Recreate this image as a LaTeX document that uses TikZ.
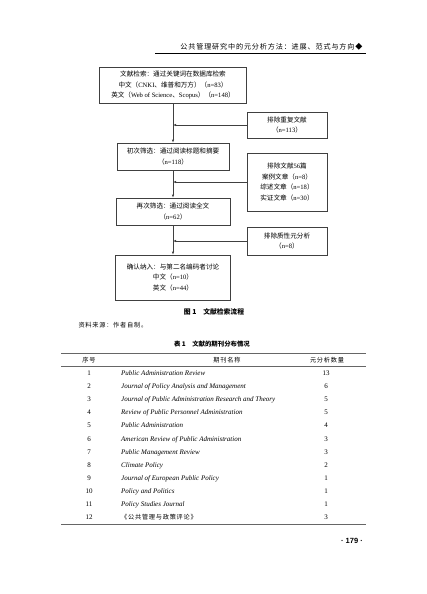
\documentclass[tikz,border=0pt]{standalone}
\usepackage{fontspec}
\setmainfont{Liberation Serif}
\setsansfont{Liberation Sans}
\newfontfamily\cjk{Noto Sans CJK SC}
\newfontfamily\cjkwide[LetterSpace=12]{Noto Sans CJK SC}
\newcommand{\zh}[1]{{\cjk #1}}
\usetikzlibrary{arrows.meta}

\begin{document}
\begin{tikzpicture}[x=1pt,y=-1pt,
  box/.style={draw=black!75,line width=.6pt,inner sep=0pt,align=center,font=\fontsize{6.6}{10.5}\selectfont},
  arr/.style={draw=black!75,line width=.6pt,-{Latex[length=3pt,width=2.4pt]}},
  cell/.style={inner sep=0pt,anchor=base,font=\fontsize{7}{8}\selectfont},
  rule/.style={draw=black!60}]
\useasboundingbox (0,0) rectangle (427,594);
\node[anchor=base east,font=\cjkwide\fontsize{7.1}{8}\selectfont] (head) at (366,49) {公共管理研究中的元分析方法：进展、范式与方向◆};
\draw[line width=.5pt] (155,53) -- (366,53);

\node[box,minimum width=147pt,minimum height=36pt] (search) at (173,85)
  {\zh{文献检索：通过关键词在数据库检索}\\\zh{中文（}CNKI\zh{、维普和万方）（}n=83\zh{）}\\\zh{英文（}Web of Science\zh{、}Scopus\zh{）（}n=148\zh{）}};
\node[box,minimum width=80pt,minimum height=26pt] (dup) at (287,125)
  {\zh{排除重复文献}\\\zh{（}n=113\zh{）}};
\node[box,minimum width=112pt,minimum height=27pt] (first) at (173,156.5)
  {\zh{初次筛选：通过阅读标题和摘要}\\\zh{（}n=118\zh{）}};
\node[box,minimum width=80pt,minimum height=58pt] (excl) at (287,182)
  {\zh{排除文献}56\zh{篇}\\\zh{案例文章（}n=8\zh{）}\\\zh{综述文章（}n=18\zh{）}\\\zh{实证文章（}n=30\zh{）}};
\node[box,minimum width=114pt,minimum height=27pt] (second) at (173,211.5)
  {\zh{再次筛选：通过阅读全文}\\\zh{（}n=62\zh{）}};
\node[box,minimum width=80pt,minimum height=28pt] (qual) at (287,241)
  {\zh{排除质性元分析}\\\zh{（}n=8\zh{）}};
\node[box,minimum width=115pt,minimum height=45pt] (final) at (173,277.5)
  {\zh{确认纳入：与第二名编码者讨论}\\\zh{中文（}n=10\zh{）}\\\zh{英文（}n=44\zh{）}};

\draw[arr] (search) -- (first);
\draw[arr] (first) -- (second);
\draw[arr] (second) -- (final);
\draw[arr] (dup) -- (dup -| search);
\draw[arr] (excl) -- (excl -| first);
\draw[arr] (qual) -- (qual -| second);

\node[font=\cjk\bfseries\fontsize{6.8}{8}\selectfont] (figcap) at (214,312) {图 1\quad 文献检索流程};
\node[anchor=west,font=\cjkwide\fontsize{6.2}{8}\selectfont] (source) at (75,325) {资料来源：作者自制。};
\node[font=\cjk\bfseries\fontsize{6.4}{8}\selectfont] (tabcap) at (212,344) {表 1\quad 文献的期刊分布情况};

\draw[rule,line width=1pt] (61,353) -- (366,353);
\draw[rule,line width=.5pt] (61,366.5) -- (366,366.5);
\draw[rule,line width=1pt] (61,524) -- (366,524);
\node[cell,font=\cjkwide\fontsize{6.2}{8}\selectfont] (hnum) at (89,362.5) {序号};
\node[cell,font=\cjkwide\fontsize{6.2}{8}\selectfont] (hname) at (227,362.5) {期刊名称};
\node[cell,font=\cjkwide\fontsize{6.2}{8}\selectfont] (hcnt) at (327,362.5) {元分析数量};
\foreach \i/\jn/\k in {1/Public Administration Review/13,
    2/Journal of Policy Analysis and Management/6,
    3/Journal of Public Administration Research and Theory/5,
    4/Review of Public Personnel Administration/5,
    5/Public Administration/4,
    6/American Review of Public Administration/3,
    7/Public Management Review/3,
    8/Climate Policy/2,
    9/Journal of European Public Policy/1,
    10/Policy and Politics/1,
    11/Policy Studies Journal/1,
    12/{\upshape\cjkwide\fontsize{6.2}{8}\selectfont《公共管理与政策评论》}/3}{
  \node[cell] (num\i) at (89,{375.5+(\i-1)*13.1}) {\i};
  \node[cell,anchor=base west,font=\fontsize{7}{8}\selectfont\itshape] (jour\i) at (121,{375.5+(\i-1)*13.1}) {\jn};
  \node[cell] (cnt\i) at (326,{375.5+(\i-1)*13.1}) {\k};
}

\node[font=\sffamily\bfseries\fontsize{7.5}{8}\selectfont] (folio) at (352,541) {· 179 ·};
\end{tikzpicture}
\end{document}
